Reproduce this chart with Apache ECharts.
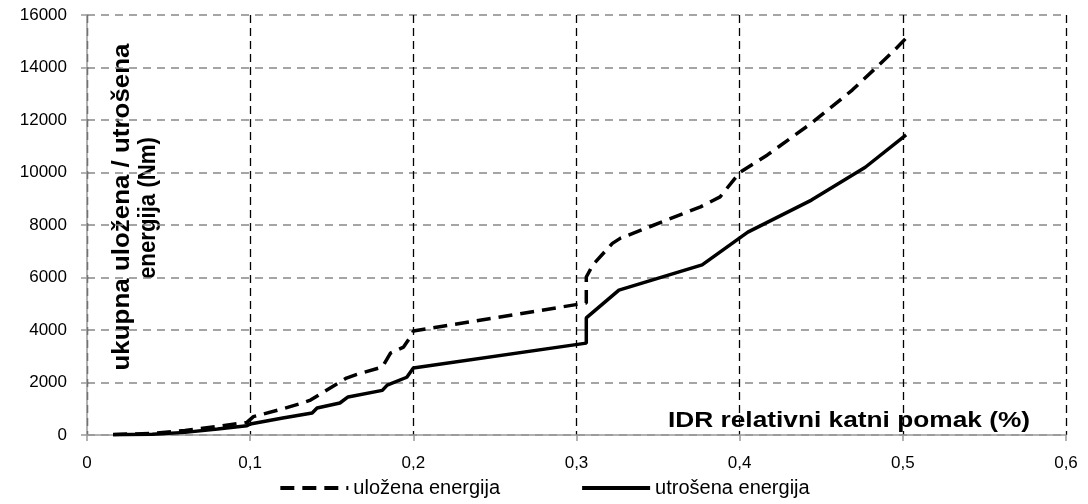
<!DOCTYPE html>
<html>
<head>
<meta charset="utf-8">
<style>
  html, body { margin: 0; padding: 0; background: #fff; }
  #chart { width: 1088px; height: 504px; }
</style>
<script src="https://cdn.jsdelivr.net/npm/echarts@6/dist/echarts.min.js"></script>
</head>
<body>
<div id="chart"></div>
<script>
// Inter-storey drift (%) and cumulative energy (Nm)
const idrInput = [0.016, 0.04, 0.06, 0.08, 0.098, 0.102, 0.12, 0.13, 0.137, 0.145, 0.159, 0.165, 0.181, 0.186, 0.194, 0.199, 0.2, 0.306, 0.306, 0.31, 0.322, 0.327, 0.376, 0.388, 0.4, 0.417, 0.444, 0.469, 0.482, 0.495, 0.502];
const energyInput = [20, 60, 170, 330, 480, 700, 1000, 1180, 1330, 1640, 2170, 2300, 2590, 3120, 3350, 3810, 3960, 5030, 6020, 6480, 7300, 7500, 8690, 9070, 10000, 10670, 11880, 13140, 13900, 14670, 15120];

const idrDissipated = [0.016, 0.04, 0.06, 0.08, 0.098, 0.1, 0.12, 0.138, 0.141, 0.155, 0.16, 0.181, 0.184, 0.196, 0.2, 0.306, 0.306, 0.326, 0.377, 0.405, 0.444, 0.477, 0.502];
const energyDissipated = [10, 30, 100, 230, 350, 420, 650, 840, 1030, 1220, 1450, 1700, 1900, 2200, 2550, 3500, 4460, 5520, 6480, 7730, 8950, 10200, 11430];

const xTickLabels = ['0', '0,1', '0,2', '0,3', '0,4', '0,5', '0,6'];
const yTickLabels = ['0', '2000', '4000', '6000', '8000', '10000', '12000', '14000', '16000'];

const seriesNames = ['uložena energija', 'utrošena energija'];
const xTitle = 'IDR relativni katni pomak (%)';
const yTitleLines = ['ukupna uložena / utrošena', 'energija (Nm)'];

const pairs = (xs, ys) => xs.map((x, i) => [x, ys[i]]);

const sans = "'Liberation Sans', Arial, sans-serif";
const titleFont = "bold 22px 'Liberation Sans', Arial, sans-serif";
const yTitleFont = "bold 23px 'Liberation Sans', Arial, sans-serif";

// stretch a title along its reading direction so it spans the given length
const measureCtx = document.createElement('canvas').getContext('2d');
function fitScale(text, font, length) {
  measureCtx.font = font;
  return length / measureCtx.measureText(text).width;
}

const chart = echarts.init(document.getElementById('chart'), null, { renderer: 'canvas' });
chart.setOption({
  animation: false,
  backgroundColor: '#ffffff',
  grid: { left: 87, right: 22, top: 15, bottom: 69, containLabel: false, outerBoundsMode: 'none' },
  legend: {
    bottom: 1,
    left: 'center',
    itemWidth: 68,
    itemHeight: 14,
    itemGap: 80,
    itemStyle: { opacity: 0 },
    lineStyle: { width: 4 },
    textStyle: {
      fontFamily: sans, fontSize: 20, color: '#000',
      width: 180
    },
    data: seriesNames
  },
  xAxis: {
    type: 'value',
    min: 0, max: 0.6, interval: 0.1,
    axisLine: { show: true, onZero: false, lineStyle: { color: '#999', width: 1.5 } },
    axisTick: { show: true, length: 6, lineStyle: { color: '#999', width: 1.5 } },
    axisLabel: {
      margin: 20,
      fontFamily: sans, fontSize: 17, color: '#000',
      formatter: v => xTickLabels[Math.round(v * 10)]
    },
    splitLine: { show: true, lineStyle: { color: '#000', type: [8, 5], width: 1.3 } }
  },
  yAxis: {
    type: 'value',
    min: 0, max: 16000, interval: 2000,
    axisLine: { show: true, lineStyle: { color: '#999', width: 1.5 } },
    axisTick: { show: true, length: 6, lineStyle: { color: '#999', width: 1.5 } },
    axisLabel: {
      margin: 20,
      fontFamily: sans, fontSize: 17, color: '#000',
      formatter: v => yTickLabels[Math.round(v / 2000)]
    },
    splitLine: { show: true, lineStyle: { color: '#888', type: [8, 6], width: 1.5 } }
  },
  graphic: [
    {
      type: 'text',
      x: 1030, y: 421,
      scaleX: fitScale(xTitle, titleFont, 362),
      style: { text: xTitle, font: titleFont, fill: '#000', align: 'right', verticalAlign: 'middle' }
    },
    {
      type: 'text',
      x: 123, y: 207,
      rotation: Math.PI / 2,
      scaleX: fitScale(yTitleLines[0], yTitleFont, 327),
      style: { text: yTitleLines[0], font: yTitleFont, fill: '#000', align: 'center', verticalAlign: 'middle' }
    },
    {
      type: 'text',
      x: 149, y: 208,
      rotation: Math.PI / 2,
      scaleX: fitScale(yTitleLines[1], yTitleFont, 142),
      style: { text: yTitleLines[1], font: yTitleFont, fill: '#000', align: 'center', verticalAlign: 'middle' }
    }
  ],
  series: [
    {
      name: seriesNames[0],
      type: 'line',
      data: pairs(idrInput, energyInput),
      showSymbol: false,
      symbol: 'none',
      lineStyle: { color: '#000', width: 3.5, type: [14, 8] },
      itemStyle: { color: '#000' }
    },
    {
      name: seriesNames[1],
      type: 'line',
      data: pairs(idrDissipated, energyDissipated),
      showSymbol: false,
      symbol: 'none',
      lineStyle: { color: '#000', width: 3.5 },
      itemStyle: { color: '#000' }
    }
  ]
});
</script>
</body>
</html>
